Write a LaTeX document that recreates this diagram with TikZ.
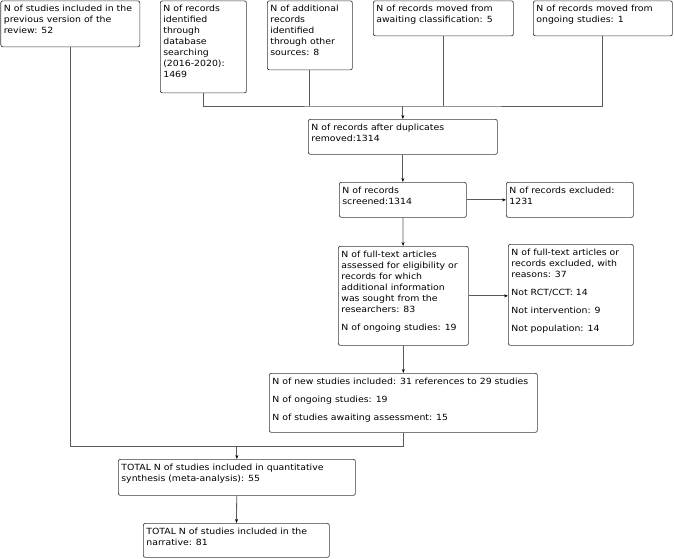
\documentclass[tikz,border=0pt]{standalone}
\usepackage{fontspec}
\setmainfont[FakeStretch=1.1]{DejaVu Sans}
\usepackage{tikz}
\usetikzlibrary{arrows.meta,calc,positioning}
\definecolor{boxgray}{HTML}{3A3A3A}
\definecolor{linegray}{HTML}{5A5A5A}
\newcommand{\flowtxt}[3]{\parbox[c][#2][t]{#1}{\raggedright\fontsize{8.5}{11}\selectfont\setlength{\parskip}{7pt}\strut #3}}
\tikzset{
  flowbox/.style={draw=boxgray,rounded corners=2pt,inner sep=3pt,anchor=north west,line width=0.7pt},
  link/.style={draw=linegray,line width=0.8pt},
  linkarr/.style={link,-{Stealth[length=4pt,width=3pt,color=black]}}
}

\begin{document}
\begin{tikzpicture}[x=1pt,y=-1pt]
  \useasboundingbox (0,0) rectangle (674,558);
  % sources
  \node[flowbox] (prev)  at (0.5,0.5)   {\flowtxt{133pt}{40pt}{N of studies included in the previous version of the review: 52}};
  \node[flowbox] (db)    at (160,0.5) {\flowtxt{80pt}{86pt}{N of records identified through database searching (2016-2020): 1469}};
  \node[flowbox] (other) at (267,0.5) {\flowtxt{79pt}{63pt}{N of additional records identified through other sources: 8}};
  \node[flowbox] (await) at (373,0.5) {\flowtxt{134pt}{29pt}{N of records moved from awaiting classification: 5}};
  \node[flowbox] (ongo)  at (533,0.5) {\flowtxt{133pt}{29pt}{N of records moved from ongoing studies: 1}};
  % screening
  \node[flowbox] (dup)    at (308,119) {\flowtxt{183pt}{29pt}{N of records after duplicates removed:1314}};
  \node[flowbox] (screen) at (339,182) {\flowtxt{121pt}{29pt}{N of records screened:1314}};
  \node[flowbox] (excl)   at (506,182) {\flowtxt{121pt}{29pt}{N of records excluded: 1231}};
  \node[flowbox] (full)   at (338,246) {\flowtxt{124pt}{93pt}{N of full-text articles assessed for eligibility or records for which additional information was sought from the researchers: 83\par N of ongoing studies: 19}};
  \node[flowbox] (fexcl)  at (508,244) {\flowtxt{119pt}{95pt}{N of full-text articles or records excluded, with reasons: 37\par Not RCT/CCT: 14\par Not intervention: 9\par Not population: 14}};
  % included
  \node[flowbox] (incl)  at (269,373) {\flowtxt{262pt}{53pt}{N of new studies included: 31 references to 29 studies\par N of ongoing studies: 19\par N of studies awaiting assessment: 15}};
  \node[flowbox] (quant) at (118,459) {\flowtxt{231pt}{30pt}{TOTAL N of studies included in quantitative synthesis (meta-analysis): 55}};
  \node[flowbox] (narr)  at (143,523) {\flowtxt{180pt}{28pt}{TOTAL N of studies included in the narrative: 81}};

  % connectors
  \coordinate (jtop) at (dup.north |- 0,106);
  \coordinate (jbot) at (quant.north |- 0,446);
  \draw[link] (db.south) |- (jtop) -| (ongo.south);
  \foreach \src in {other,await}{\draw[link] (\src.south) -- (\src.south |- jtop);}
  \draw[linkarr] (jtop) -- (dup.north);
  \draw[linkarr] (dup) -- (screen);
  \draw[linkarr] (screen) -- (excl);
  \draw[linkarr] (screen) -- (full);
  \draw[linkarr] (full) -- (fexcl.west |- full.east);
  \draw[linkarr] (full) -- (incl);
  \draw[link] (prev.south) |- (incl.south |- jbot) -- (incl.south);
  \draw[linkarr] (jbot) -- (quant.north);
  \draw[linkarr] (quant) -- (narr);
\end{tikzpicture}
\end{document}
